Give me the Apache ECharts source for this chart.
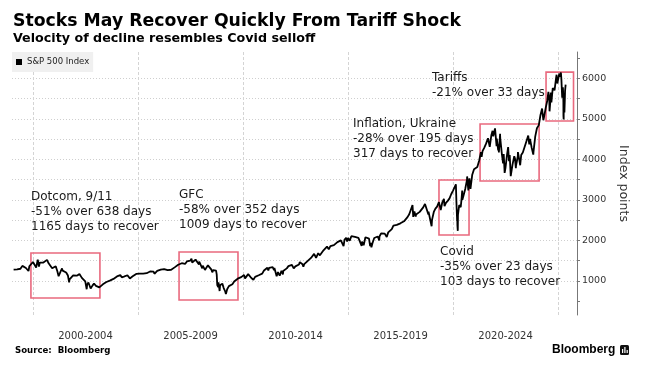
<!DOCTYPE html>
<html>
<head>
<meta charset="utf-8">
<script src="https://cdn.jsdelivr.net/npm/echarts@6/dist/echarts.min.js"></script>
<style>
html,body{margin:0;padding:0;background:#fff;}
#chart{width:647px;height:372px;}
</style>
</head>
<body>
<div id="chart"></div>
<script>
// ---------- DATA ----------
const seriesName = "S&P 500 Index";
const sp500_1999_2004 = [
["1999-01-29",1280],["1999-02-26",1238],["1999-03-31",1286],["1999-04-30",1335],["1999-05-28",1302],["1999-06-30",1373],["1999-07-16",1418],["1999-07-30",1329],["1999-08-31",1320],["1999-09-30",1283],["1999-10-15",1247],["1999-10-29",1363],["1999-11-30",1389],["1999-12-31",1469],
["2000-01-31",1394],["2000-02-25",1333],["2000-03-24",1527],["2000-03-31",1499],["2000-04-14",1356],["2000-04-28",1452],["2000-05-31",1421],["2000-06-30",1455],["2000-07-31",1431],["2000-09-01",1521],["2000-09-29",1437],["2000-10-31",1429],["2000-11-30",1315],["2000-12-29",1320],
["2001-01-31",1366],["2001-02-28",1240],["2001-03-22",1117],["2001-03-30",1160],["2001-04-04",1103],["2001-04-30",1249],["2001-05-21",1312],["2001-05-31",1256],["2001-06-29",1224],["2001-07-31",1211],["2001-08-31",1134],["2001-09-21",966],["2001-09-28",1041],["2001-10-31",1060],["2001-11-30",1139],["2001-12-31",1148],
["2002-01-31",1130],["2002-02-28",1107],["2002-03-19",1170],["2002-03-28",1147],["2002-04-30",1077],["2002-05-31",1067],["2002-06-28",990],["2002-07-23",797],["2002-07-31",912],["2002-08-22",962],["2002-08-30",916],["2002-09-30",815],["2002-10-09",777],["2002-10-31",886],["2002-11-27",938],["2002-12-31",880],
["2003-01-31",856],["2003-02-28",841],["2003-03-11",800],["2003-03-31",848],["2003-04-30",917],["2003-05-30",964],["2003-06-30",975],["2003-07-31",990],["2003-08-29",1008],["2003-09-30",996],["2003-10-31",1051],["2003-11-28",1058],["2003-12-31",1112],
["2004-01-30",1131],["2004-02-27",1145],["2004-03-24",1091],["2004-03-31",1126],["2004-04-30",1107],["2004-05-28",1121],["2004-06-30",1141],["2004-07-30",1102],["2004-08-12",1064],["2004-08-31",1104],["2004-09-30",1115],["2004-10-29",1130],["2004-11-30",1174],["2004-12-31",1212]
];
const sp500_2005_2009 = [
["2005-01-31",1181],["2005-02-28",1204],["2005-03-31",1181],["2005-04-20",1138],["2005-04-29",1157],["2005-05-31",1192],["2005-06-30",1191],["2005-07-29",1234],["2005-08-31",1220],["2005-09-30",1229],["2005-10-13",1177],["2005-10-31",1207],["2005-11-30",1249],["2005-12-30",1248],
["2006-01-31",1280],["2006-02-28",1281],["2006-03-31",1295],["2006-04-28",1311],["2006-05-05",1325],["2006-05-31",1270],["2006-06-13",1223],["2006-06-30",1270],["2006-07-31",1277],["2006-08-31",1304],["2006-09-29",1336],["2006-10-31",1378],["2006-11-30",1401],["2006-12-29",1418],
["2007-01-31",1438],["2007-02-27",1400],["2007-03-30",1421],["2007-04-30",1482],["2007-05-31",1531],["2007-06-29",1503],["2007-07-19",1553],["2007-07-31",1455],["2007-08-15",1407],["2007-08-31",1474],["2007-09-28",1527],["2007-10-09",1565],["2007-10-31",1549],["2007-11-26",1407],["2007-11-30",1481],["2007-12-31",1468],
["2008-01-22",1310],["2008-01-31",1379],["2008-02-29",1331],["2008-03-10",1273],["2008-03-31",1323],["2008-04-30",1386],["2008-05-19",1427],["2008-05-30",1400],["2008-06-30",1280],["2008-07-15",1214],["2008-07-31",1267],["2008-08-29",1283],["2008-09-19",1255],["2008-09-30",1165],["2008-10-10",899],["2008-10-27",848],["2008-10-31",969],["2008-11-20",752],["2008-11-28",896],["2008-12-31",903],
["2009-01-06",935],["2009-01-30",826],["2009-02-27",735],["2009-03-09",677],["2009-03-31",798],["2009-04-30",873],["2009-05-29",919],["2009-06-30",919],["2009-07-10",879],["2009-07-31",987],["2009-08-31",1021],["2009-09-30",1057],["2009-10-30",1036],["2009-11-30",1096],["2009-12-31",1115]
];
const sp500_2010_2014 = [
["2010-01-19",1150],["2010-02-05",1064],["2010-02-26",1104],["2010-03-31",1169],["2010-04-23",1217],["2010-04-30",1187],["2010-05-25",1074],["2010-05-28",1089],["2010-06-30",1031],["2010-07-02",1022],["2010-07-30",1102],["2010-08-27",1065],["2010-08-31",1049],["2010-09-30",1141],["2010-10-29",1183],["2010-11-30",1181],["2010-12-31",1258],
["2011-01-31",1286],["2011-02-28",1327],["2011-03-16",1257],["2011-03-31",1326],["2011-04-29",1364],["2011-05-31",1345],["2011-06-24",1268],["2011-06-30",1321],["2011-07-22",1345],["2011-07-29",1292],["2011-08-08",1119],["2011-08-31",1219],["2011-09-30",1131],["2011-10-03",1099],["2011-10-31",1253],["2011-11-25",1159],["2011-11-30",1247],["2011-12-30",1258],
["2012-01-31",1312],["2012-02-29",1366],["2012-03-30",1408],["2012-04-30",1398],["2012-05-31",1310],["2012-06-01",1278],["2012-06-29",1362],["2012-07-31",1379],["2012-08-31",1407],["2012-09-14",1466],["2012-09-28",1441],["2012-10-31",1412],["2012-11-15",1353],["2012-11-30",1416],["2012-12-31",1426],
["2013-01-31",1498],["2013-02-28",1515],["2013-03-28",1569],["2013-04-30",1598],["2013-05-21",1669],["2013-05-31",1631],["2013-06-24",1573],["2013-06-28",1606],["2013-07-31",1686],["2013-08-30",1633],["2013-09-30",1682],["2013-10-31",1757],["2013-11-29",1806],["2013-12-31",1848],
["2014-01-31",1783],["2014-02-03",1742],["2014-02-28",1859],["2014-03-31",1872],["2014-04-30",1884],["2014-05-30",1924],["2014-06-30",1960],["2014-07-31",1931],["2014-08-29",2003],["2014-09-30",1972],["2014-10-15",1862],["2014-10-31",2018],["2014-11-28",2068],["2014-12-16",1973],["2014-12-31",2059]
];
const sp500_2015_2019 = [
["2015-01-30",1995],["2015-02-27",2105],["2015-03-31",2068],["2015-04-30",2086],["2015-05-21",2131],["2015-05-29",2107],["2015-06-30",2063],["2015-07-31",2104],["2015-08-25",1867],["2015-08-31",1972],["2015-09-29",1882],["2015-09-30",1920],["2015-10-30",2079],["2015-11-30",2080],["2015-12-31",2044],
["2016-01-20",1859],["2016-01-29",1940],["2016-02-11",1829],["2016-02-29",1932],["2016-03-31",2060],["2016-04-29",2065],["2016-05-31",2097],["2016-06-27",2001],["2016-06-30",2099],["2016-07-29",2174],["2016-08-31",2171],["2016-09-30",2168],["2016-10-31",2126],["2016-11-04",2085],["2016-11-30",2199],["2016-12-30",2239],
["2017-01-31",2279],["2017-02-28",2364],["2017-03-31",2363],["2017-04-28",2384],["2017-05-31",2412],["2017-06-30",2423],["2017-07-31",2470],["2017-08-31",2472],["2017-09-29",2519],["2017-10-31",2575],["2017-11-30",2648],["2017-12-29",2674],
["2018-01-26",2873],["2018-01-31",2824],["2018-02-08",2581],["2018-02-28",2714],["2018-03-23",2588],["2018-03-29",2641],["2018-04-30",2648],["2018-05-31",2705],["2018-06-29",2718],["2018-07-31",2816],["2018-08-31",2902],["2018-09-20",2931],["2018-09-28",2914],["2018-10-29",2641],["2018-10-31",2712],["2018-11-30",2760],["2018-12-24",2351],["2018-12-31",2507],
["2019-01-31",2704],["2019-02-28",2784],["2019-03-29",2834],["2019-04-30",2946],["2019-05-31",2752],["2019-06-03",2744],["2019-06-28",2942],["2019-07-26",3026],["2019-07-31",2980],["2019-08-05",2845],["2019-08-30",2926],["2019-09-30",2977],["2019-10-31",3038],["2019-11-29",3141],["2019-12-31",3231]
];
const sp500_2020_2025 = [
["2020-01-31",3226],["2020-02-19",3386],["2020-02-28",2954],["2020-03-12",2481],["2020-03-13",2711],["2020-03-16",2386],["2020-03-23",2237],["2020-03-26",2630],["2020-03-31",2585],["2020-04-17",2875],["2020-04-30",2912],["2020-05-13",2820],["2020-05-29",3044],["2020-06-08",3232],["2020-06-11",3002],["2020-06-30",3100],["2020-07-31",3271],["2020-08-31",3500],["2020-09-02",3580],["2020-09-23",3237],["2020-09-30",3363],["2020-10-12",3534],["2020-10-30",3270],["2020-11-30",3622],["2020-12-31",3756],
["2021-01-29",3714],["2021-02-26",3811],["2021-03-04",3768],["2021-03-31",3973],["2021-04-30",4181],["2021-05-12",4063],["2021-05-28",4204],["2021-06-30",4298],["2021-07-30",4395],["2021-08-31",4523],["2021-09-02",4537],["2021-09-30",4308],["2021-10-04",4300],["2021-10-29",4605],["2021-11-18",4705],["2021-11-30",4567],["2021-12-31",4766],
["2022-01-03",4797],["2022-01-27",4326],["2022-01-31",4516],["2022-02-24",4225],["2022-02-28",4374],["2022-03-08",4171],["2022-03-29",4632],["2022-03-31",4530],["2022-04-29",4132],["2022-05-20",3901],["2022-05-31",4132],["2022-06-08",4116],["2022-06-16",3667],["2022-06-30",3785],["2022-07-29",4130],["2022-08-16",4305],["2022-08-31",3955],["2022-09-12",4110],["2022-09-30",3586],["2022-10-12",3577],["2022-10-31",3872],["2022-11-30",4080],["2022-12-13",4019],["2022-12-28",3783],["2022-12-30",3840],
["2023-01-31",4077],["2023-02-02",4179],["2023-02-28",3970],["2023-03-13",3855],["2023-03-31",4109],["2023-04-28",4169],["2023-05-31",4180],["2023-06-30",4450],["2023-07-31",4589],["2023-08-18",4370],["2023-08-31",4508],["2023-09-29",4288],["2023-10-27",4117],["2023-10-31",4194],["2023-11-30",4568],["2023-12-29",4770],
["2024-01-31",4846],["2024-02-29",5096],["2024-03-28",5254],["2024-04-19",4967],["2024-04-30",5036],["2024-05-31",5278],["2024-06-28",5460],["2024-07-16",5667],["2024-07-31",5522],["2024-08-05",5186],["2024-08-30",5648],["2024-09-06",5408],["2024-09-30",5762],["2024-10-31",5705],["2024-11-29",6032],["2024-12-06",6090],["2024-12-18",5872],["2024-12-31",5882],
["2025-01-13",5836],["2025-01-23",6119],["2025-01-31",6041],["2025-02-19",6144],["2025-02-28",5955],["2025-03-13",5522],["2025-03-25",5777],["2025-03-31",5612],["2025-04-03",5397],["2025-04-04",5074],["2025-04-08",4983],["2025-04-09",5457],["2025-04-21",5158],["2025-04-30",5569],["2025-05-02",5687],["2025-05-08",5664],["2025-05-12",5844]
];

// Highlighted episodes: [start date, end date, low value, high value]
const episodeNames = ["Dotcom", "GFC", "Covid", "Inflation", "Tariffs"];
const episodeBoxes = [
  ["1999-11-26","2003-03-10",580,1690],
  ["2006-12-15","2009-10-05",531,1715],
  ["2019-05-01","2020-10-05",2134,3491],
  ["2021-04-15","2024-02-05",3466,4872],
  ["2024-06-05","2025-09-26",4946,6154]
];
const annotationLines = [
  ["Dotcom, 9/11","-51% over 638 days","1165 days to recover"],
  ["GFC","-58% over 352 days","1009 days to recover"],
  ["Covid","-35% over 23 days","103 days to recover"],
  ["Inflation, Ukraine","-28% over 195 days","317 days to recover"],
  ["Tariffs","-21% over 33 days"]
];

const xTickLabels = ["2000-2004","2005-2009","2010-2014","2015-2019","2020-2024"];
const xLabelCenters = [2002.5, 2007.5, 2012.5, 2017.5, 2022.5];
const yTickLabels = [1000, 2000, 3000, 4000, 5000, 6000];
const yMinorTicks = [500,1000,1500,2000,2500,3000,3500,4000,4500,5000,5500,6000,6500];

// ---------- HELPERS ----------
function toYear(s) {
  const p = s.split("-").map(Number);
  const y = p[0];
  const start = Date.UTC(y, 0, 1), end = Date.UTC(y + 1, 0, 1);
  return y + (Date.UTC(y, p[1] - 1, p[2]) - start) / (end - start);
}
const allData = [].concat(sp500_1999_2004, sp500_2005_2009, sp500_2010_2014, sp500_2015_2019, sp500_2020_2025)
  .map(d => [toYear(d[0]), d[1]]);

const FONT = "DejaVu Sans";
const BOX_COLOR = "#e9697e";

// annotation layout (pixel positions of text blocks)
const annotationPos = [
  {x: 31, y: 197, lh: 15},
  {x: 179, y: 194.5, lh: 15},
  {x: 440, y: 252, lh: 14.7},
  {x: 353, y: 123.5, lh: 15},
  {x: 432, y: 77.5, lh: 15}
];

const graphics = [];
graphics.push({type: 'text', x: 13, y: 21.5, style: {text: "Stocks May Recover Quickly From Tariff Shock", font: "bold 17.3px " + FONT, fill: "#000", textVerticalAlign: 'middle'}});
graphics.push({type: 'text', x: 13, y: 38.5, style: {text: "Velocity of decline resembles Covid selloff", font: "bold 12.7px " + FONT, fill: "#000", textVerticalAlign: 'middle'}});
graphics.push({type: 'text', x: 15, y: 351, style: {text: "Source:  Bloomberg", font: "bold 8.6px " + FONT, fill: "#000", textVerticalAlign: 'middle'}});
graphics.push({type: 'text', x: 552, y: 350, style: {text: "Bloomberg", font: "bold 12px 'Liberation Sans'", fill: "#000", textVerticalAlign: 'middle'}});
graphics.push({type: 'rect', shape: {x: 620, y: 345, width: 9, height: 10, r: 1.5}, style: {fill: "#111"}});
graphics.push({type: 'rect', shape: {x: 622, y: 349, width: 1.2, height: 4}, style: {fill: "#fff"}});
graphics.push({type: 'rect', shape: {x: 624.3, y: 347, width: 1.2, height: 6}, style: {fill: "#fff"}});
graphics.push({type: 'rect', shape: {x: 626.6, y: 350, width: 1.2, height: 3}, style: {fill: "#fff"}});
annotationLines.forEach((lines, i) => {
  const p = annotationPos[i];
  lines.forEach((t, j) => {
    graphics.push({type: 'text', x: p.x, y: p.y + j * p.lh, z: 50,
      style: {text: t, font: "12px " + FONT, fill: "#1a1a1a", textVerticalAlign: 'middle'}});
  });
});

const chart = echarts.init(document.getElementById('chart'), null, {renderer: 'canvas'});
chart.setOption({
  animation: false,
  backgroundColor: '#fff',
  textStyle: {fontFamily: FONT},
  grid: {left: 12, right: 70, top: 52, bottom: 57, containLabel: false},
  legend: {
    show: true, left: 12, top: 52,
    data: [seriesName],
    icon: 'rect', itemWidth: 6, itemHeight: 6,
    backgroundColor: '#f0f0f0',
    padding: [5, 4, 5, 4],
    textStyle: {fontSize: 8.5, color: '#222', fontFamily: FONT, lineHeight: 10},
    selectedMode: false
  },
  xAxis: {
    type: 'value', min: 1999, max: 2025.9,
    axisLine: {show: false}, axisTick: {show: false},
    splitLine: {show: true, showMinLine: false, showMaxLine: false,
      lineStyle: {color: '#d4d4d4', type: [3, 2], width: 1}},
    axisLabel: {
      customValues: xLabelCenters,
      margin: 16, fontSize: 10, color: '#333', fontFamily: FONT,
      formatter: v => { const i = xLabelCenters.findIndex(c => Math.abs(c - v) < 1e-6); return i >= 0 ? xTickLabels[i] : ''; }
    }
  },
  yAxis: {
    type: 'value', position: 'right', min: 161, max: 6650,
    name: 'Index points', nameLocation: 'middle', nameRotate: -90, nameGap: 31,
    nameTextStyle: {fontSize: 12.5, color: '#333', fontFamily: FONT},
    axisLine: {show: true, lineStyle: {color: '#777', width: 1}},
    axisTick: {show: true, customValues: yMinorTicks, length: 3, lineStyle: {color: '#777'}},
    axisLabel: {customValues: yTickLabels, margin: 5, fontSize: 9.5, color: '#333', fontFamily: FONT,
      formatter: v => String(Math.round(v))},
    splitLine: {show: true, showMinLine: false, showMaxLine: false,
      lineStyle: {color: '#cfcfcf', type: [1, 2], width: 1}}
  },
  graphic: graphics,
  series: [{
    name: seriesName,
    type: 'line',
    data: allData,
    showSymbol: false,
    symbol: 'none',
    itemStyle: {color: '#000'},
    lineStyle: {color: '#000', width: 1.8},
    z: 5,
    markArea: {
      silent: true,
      itemStyle: {color: 'rgba(0,0,0,0)', borderColor: BOX_COLOR, borderWidth: 1.6},
      data: episodeBoxes.map((b, i) => [
        {name: episodeNames[i], xAxis: toYear(b[0]), yAxis: b[2]},
        {xAxis: toYear(b[1]), yAxis: b[3]}
      ]),
      label: {show: false}
    }
  }]
});
</script>
</body>
</html>
